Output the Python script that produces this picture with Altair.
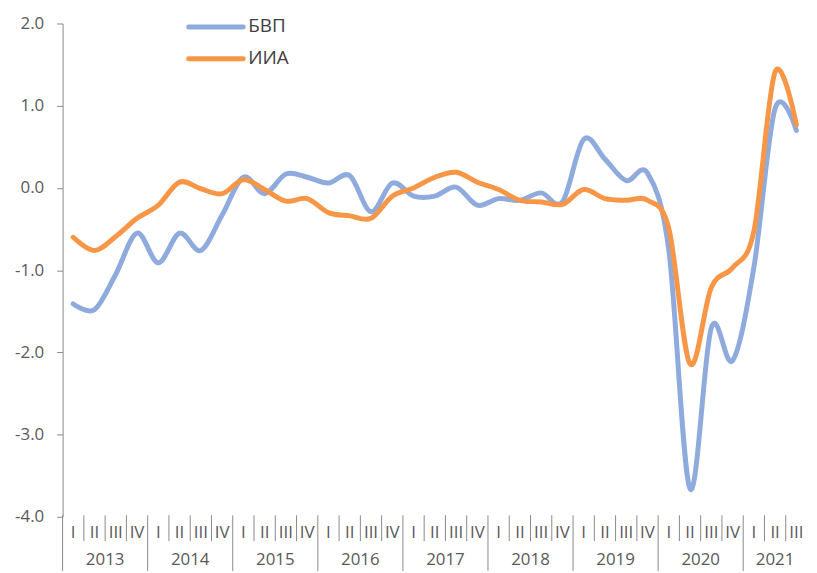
import altair as alt
import pandas as pd

# ---- data ----
years = ["2013", "2014", "2015", "2016", "2017", "2018", "2019", "2020", "2021"]
quarter_names = ["I", "II", "III", "IV"]
series_names = ["БВП", "ИИА"]

gdp = [-1.41, -1.48, -1.05, -0.55, -0.91, -0.55, -0.76, -0.33,
       0.13, -0.07, 0.17, 0.13, 0.06, 0.15, -0.29, 0.06,
       -0.10, -0.10, 0.01, -0.21, -0.13, -0.15, -0.06, -0.17,
       0.59, 0.35, 0.09, 0.18, -0.75, -3.66, -1.70, -2.10,
       -0.97, 0.97, 0.70]
iia = [-0.60, -0.76, -0.59, -0.37, -0.21, 0.07, -0.01, -0.07,
       0.10, -0.02, -0.16, -0.13, -0.30, -0.34, -0.37, -0.10,
       0.00, 0.13, 0.19, 0.07, -0.02, -0.15, -0.17, -0.20,
       -0.02, -0.13, -0.15, -0.15, -0.49, -2.14, -1.21, -0.97,
       -0.53, 1.41, 0.77]
y_ticks = [-4, -3, -2, -1, 0, 1, 2]
colors = ["#8FAADC", "#F79646"]

n = len(gdp)
W, H = 750, 497
Y_MIN, Y_MAX = -4, 2
zero_px = H * (Y_MAX - 0) / (Y_MAX - Y_MIN)
grey = "#898989"
txt = "#595959"
font = "Open Sans"

df = pd.DataFrame({
    "pos": [i + 0.5 for i in range(n)] * 2,
    "value": gdp + iia,
    "series": [series_names[0]] * n + [series_names[1]] * n,
})
qdf = pd.DataFrame({"pos": [i + 0.5 for i in range(n)],
                    "q": [quarter_names[i % 4] for i in range(n)]})
qsep = pd.DataFrame({"b": [b for b in range(1, n) if b % 4 != 0]})
ysep = pd.DataFrame({"b": [b for b in range(0, n) if b % 4 == 0]})
ydf = pd.DataFrame({"pos": [(4 * k + min(4 * k + 4, n)) / 2 for k in range(len(years))],
                    "year": years})
legend_df = pd.DataFrame({"series": series_names, "row": [0, 1]})

color_scale = alt.Scale(domain=series_names, range=colors)
x_scale = alt.Scale(domain=[0, n], nice=False, zero=False)

lines = alt.Chart(df).mark_line(
    interpolate="cardinal", strokeWidth=5, strokeCap="round", strokeJoin="round"
).encode(
    x=alt.X("pos:Q", scale=x_scale,
            axis=alt.Axis(orient="bottom", offset=-(H - zero_px), values=list(range(n + 1)),
                          labels=False, tickSize=5, grid=False, title=None,
                          domainColor=grey, tickColor=grey)),
    y=alt.Y("value:Q", scale=alt.Scale(domain=[Y_MIN, Y_MAX], nice=False),
            axis=alt.Axis(values=y_ticks, grid=False, title=None, tickSize=6,
                          labelPadding=13, labelFontSize=17, labelFont=font,
                          labelColor=txt, domainColor=grey, tickColor=grey,
                          labelExpr="replace(format(datum.value, '.1f'), '\u2212', '-')")),
    color=alt.Color("series:N", scale=color_scale, legend=None),
)

q_text = alt.Chart(qdf).mark_text(fontSize=17, font=font, color=txt, baseline="middle").encode(
    x=alt.X("pos:Q", scale=x_scale, axis=None), y=alt.value(513.5), text="q:N")
q_rules = alt.Chart(qsep).mark_rule(color=grey, strokeWidth=1).encode(
    x=alt.X("b:Q", scale=x_scale, axis=None), y=alt.value(H - 1.5), y2=alt.value(521.5))
y_rules = alt.Chart(ysep).mark_rule(color=grey, strokeWidth=1).encode(
    x=alt.X("b:Q", scale=x_scale, axis=None), y=alt.value(H - 1.5), y2=alt.value(551.5))
y_text = alt.Chart(ydf).mark_text(fontSize=17, font=font, color=txt, baseline="middle").encode(
    x=alt.X("pos:Q", scale=x_scale, axis=None), y=alt.value(540.5), text="year:N")

leg_y = alt.Y("row:Q", scale=alt.Scale(domain=[0, 1], range=[3.5, 35.5]), axis=None)
leg_lines = alt.Chart(legend_df).mark_rule(strokeWidth=5, strokeCap="round").encode(
    x=alt.value(127), x2=alt.value(182), y=leg_y,
    color=alt.Color("series:N", scale=color_scale, legend=None))
leg_text = alt.Chart(legend_df).mark_text(align="left", baseline="middle", fontSize=19,
                                          font=font, color="#404040", dy=-1).encode(
    x=alt.value(187), y=leg_y, text="series:N")

chart = alt.layer(q_rules, y_rules, q_text, y_text, lines, leg_lines, leg_text).resolve_scale(
    y="independent"
).properties(
    width=W, height=H,
    padding={"left": 55, "top": 13.5, "right": 2, "bottom": 54.5},
    autosize=alt.AutoSizeParams(type="none"),
    background="white",
).configure_view(stroke=None)

chart.save("out.html", embed_options={"renderer": "svg", "actions": False})
